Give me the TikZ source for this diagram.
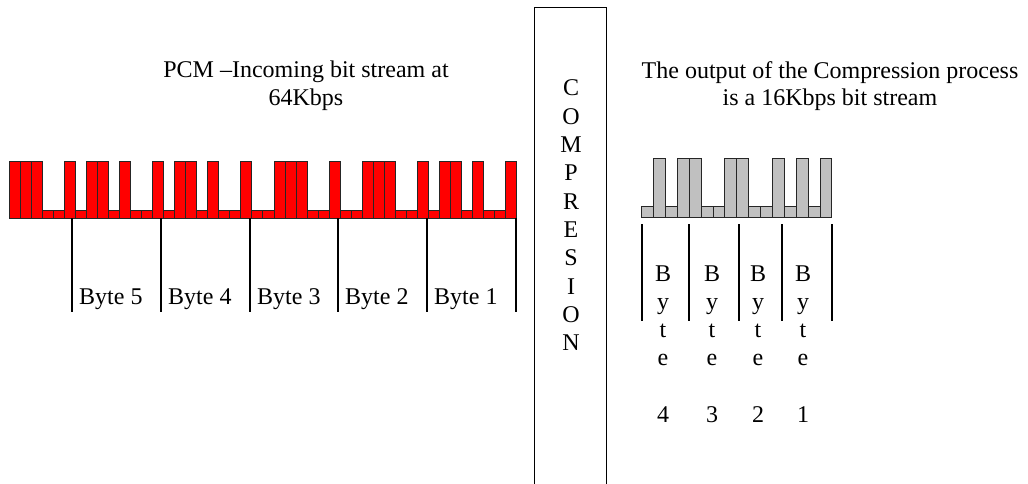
\documentclass[tikz,border=0pt]{standalone}
\usepackage{fontspec}
\setmainfont{Liberation Serif}
\usetikzlibrary{positioning}

\definecolor{pcmred}{RGB}{255,0,0}
\definecolor{outgray}{RGB}{192,192,192}

\begin{document}
\begin{tikzpicture}[x=1pt,y=-1pt,
  every node/.style={font=\fontsize{24}{27.6}\selectfont,inner sep=0pt},
  redbit/.style={fill=pcmred,draw=black!85,line width=1pt},
  graybit/.style={fill=outgray,draw=black!85,line width=1pt},
  divider/.style={draw=black,line width=1.2pt}]
\useasboundingbox (0,0) rectangle (1028,484);

% headings
\node[align=center] (pcmtitle) at (306,86) {PCM –Incoming bit stream at\\64Kbps};
\node[align=center] (outtitle) at (830,86) {The output of the Compression process\\is a 16Kbps bit stream};

% 64 kbit/s stream, one bar per bit
\foreach \b [count=\i from 0] in {1,1,1,0,0,1, 0,1,1,0,1,0,0,1, 0,1,1,0,1,0,0,1,
    0,0,1,1,1,0,0,1, 0,0,1,1,1,0,0,1, 0,1,1,0,1,0,0,1} {
  \pgfmathsetmacro\xa{9+11.043*\i}
  \pgfmathsetmacro\yt{210-48.3*\b}
  \draw[redbit] (\xa,218.3) rectangle (\xa+11.043,\yt);
}
\foreach \dx in {72,161,250,338,427,516}
  \draw[divider] (\dx,218) -- (\dx,312);
\foreach \dx/\num in {72/5,161/4,250/3,338/2,427/1}
  \node[anchor=base west] (byte\num) at (\dx+7,304) {Byte \num};

% compression block
\draw[line width=1.2pt] (534.5,495) -- (534.5,7.5) -- (606.5,7.5) -- (606.5,495);
\foreach \ch [count=\i from 0] in {C,O,M,P,R,E,S,I,O,N}
  \node[anchor=base] (comp\i) at (571,96+28.3*\i) {\ch};

% 16 kbit/s stream
\foreach \b [count=\i from 0] in {0,1,0,1,1,0,0,1,1,0,0,1,0,1,0,1} {
  \pgfmathsetmacro\xa{641.7+11.89*\i}
  \pgfmathsetmacro\yt{206.7-48.4*\b}
  \draw[graybit] (\xa,217.7) rectangle (\xa+11.89,\yt);
}
\foreach \dx in {642,689,739,782,832}
  \draw[divider] (\dx,224) -- (\dx,321);
\foreach \bx/\num in {663/4,712/3,758/2,803/1} {
  \foreach \ch [count=\j from 0] in {B,y,t,e}
    \node[anchor=base] (out\num-\j) at (\bx,281+28*\j) {\ch};
  \node[anchor=base] (outnum\num) at (\bx,422) {\num};
}
\end{tikzpicture}
\end{document}
